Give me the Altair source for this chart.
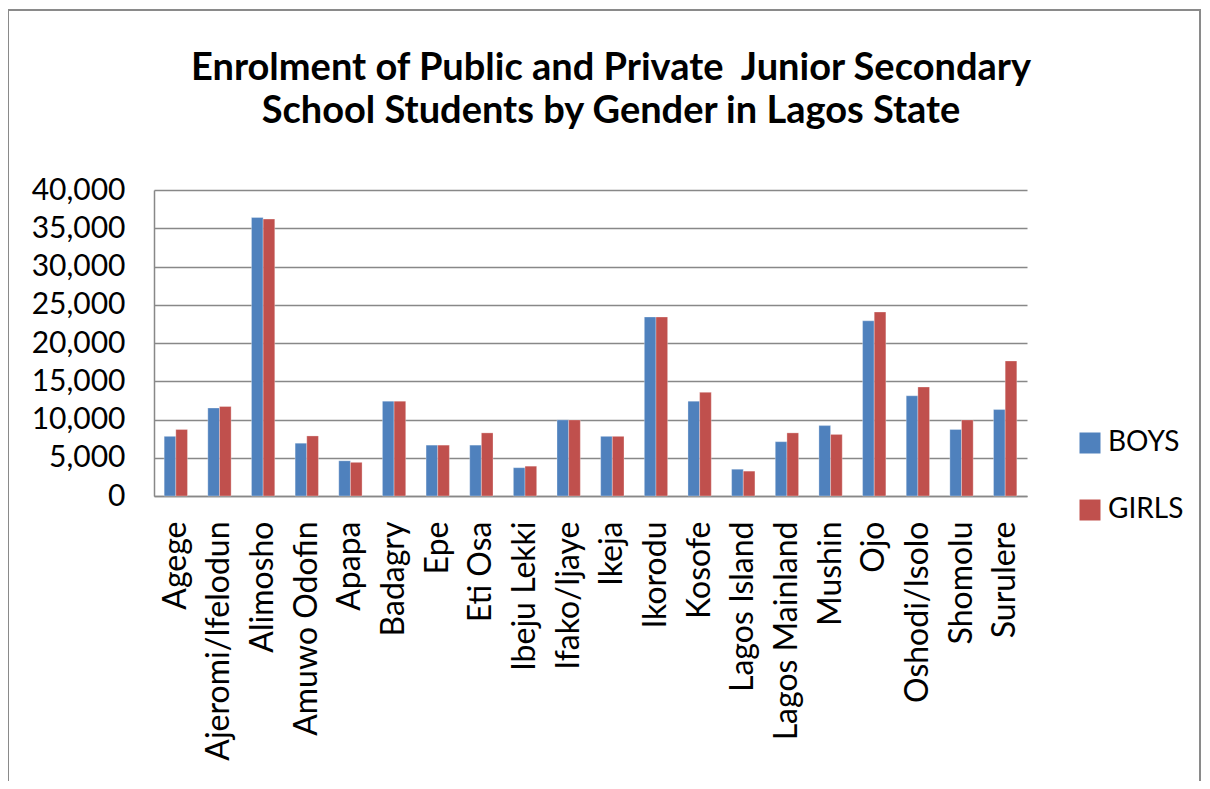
import altair as alt
import pandas as pd

lgas = ["Agege", "Ajeromi/Ifelodun", "Alimosho", "Amuwo Odofin", "Apapa", "Badagry",
        "Epe", "Eti Osa", "Ibeju Lekki", "Ifako/Ijaye", "Ikeja", "Ikorodu", "Kosofe",
        "Lagos Island", "Lagos Mainland", "Mushin", "Ojo", "Oshodi/Isolo", "Shomolu", "Surulere"]
boys = [7800, 11500, 36400, 6900, 4600, 12400, 6650, 6650, 3700, 9950,
        7800, 23400, 12400, 3500, 7100, 9200, 22900, 13100, 8700, 11300]
girls = [8700, 11700, 36200, 7850, 4400, 12400, 6650, 8250, 3900, 9950,
         7800, 23400, 13550, 3250, 8250, 8050, 24050, 14250, 9950, 17650]
genders = ["BOYS", "GIRLS"]
colors = ["#4F81BD", "#C0504D"]
title_lines = ["Enrolment of Public and Private \u00a0Junior Secondary",
               "School Students by Gender in Lagos State"]

rows = []
for i, l in enumerate(lgas):
    rows.append({"LGA": l, "Gender": "BOYS", "Students": boys[i]})
    rows.append({"LGA": l, "Gender": "GIRLS", "Students": girls[i]})
df = pd.DataFrame(rows)

FONT = "Lato"

bars = alt.Chart(df).mark_bar(stroke="white", strokeWidth=0.5, strokeOpacity=0.6).encode(
    x=alt.X("LGA:N", sort=lgas,
            scale=alt.Scale(paddingInner=0.466, paddingOuter=0.233),
            axis=alt.Axis(title=None, labelAngle=-90, labelAlign="right", labelBaseline="middle",
                          labelPadding=25, ticks=False, domainColor="#888888", domainWidth=1.5,
                          labelFontSize=32, labelFont=FONT, labelColor="#000000", grid=False,
                          labelLimit=0, labelOverlap=False)),
    xOffset=alt.XOffset("Gender:N", sort=genders),
    y=alt.Y("Students:Q",
            scale=alt.Scale(domain=[0, 40000], nice=False),
            axis=alt.Axis(title=None, values=list(range(0, 40001, 5000)), format=",d",
                          ticks=False, labelPadding=29, labelFontSize=30, labelFont=FONT,
                          labelColor="#000000", domainColor="#888888", domainWidth=1.5,
                          gridColor="#888888", gridWidth=1.5, labelOverlap=False)),
    color=alt.Color("Gender:N", sort=genders,
                    scale=alt.Scale(domain=genders, range=colors),
                    legend=alt.Legend(title=None, orient="none", legendX=922, legendY=239,
                                      symbolType="square", symbolSize=441, symbolStrokeWidth=0,
                                      labelFontSize=28, labelFont=FONT, labelColor="#000000",
                                      labelOffset=4, rowPadding=39)),
)

frame = alt.Chart(pd.DataFrame({"f": [0]})).mark_rect(
    fill=None, stroke="#8a8a8a", strokeWidth=2, clip=False
).encode(x=alt.value(-146), x2=alt.value(1046), y=alt.value(-180), y2=alt.value(640))

title1 = alt.Chart(pd.DataFrame({"t": [title_lines[0]]})).mark_text(
    font=FONT, fontSize=38, fontWeight="bold", color="#000000", align="center",
    baseline="alphabetic"
).encode(text="t:N", x=alt.value(457), y=alt.value(-110))
title2 = alt.Chart(pd.DataFrame({"t": [title_lines[1]]})).mark_text(
    font=FONT, fontSize=38, fontWeight="bold", color="#000000", align="center",
    baseline="alphabetic"
).encode(text="t:N", x=alt.value(457), y=alt.value(-67))

chart = alt.layer(frame, bars, title1, title2).properties(
    width=873, height=306,
    autosize=alt.AutoSizeParams(type="none"),
    padding={"left": 146, "top": 182, "right": 175, "bottom": 285},
).configure_view(stroke=None)

chart.save("out.html", embed_options={"renderer": "svg", "actions": False})
